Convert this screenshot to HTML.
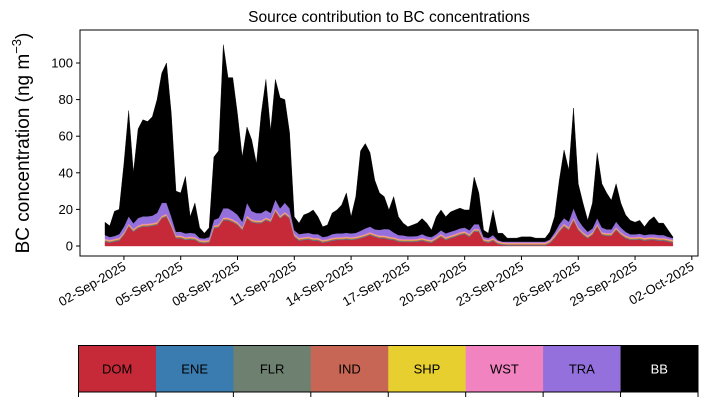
<!DOCTYPE html>
<html><head><meta charset="utf-8"><style>
body{margin:0;background:#fff;}
svg{display:block;font-family:"Liberation Sans","DejaVu Sans",sans-serif;}
</style></head><body>
<svg id="chart" width="707" height="402" viewBox="0 0 707 402"></svg>
<script>
const sources = ["DOM","ENE","FLR","IND","SHP","WST","TRA","BB"];
const colors = ["#c62a38","#3a7bb0","#6e8070","#c86655","#e6cf2e","#f183c1","#9370db","#000000"];
const yTicks = [0,20,40,60,80,100];
const xTickLabels = ["02-Sep-2025","05-Sep-2025","08-Sep-2025","11-Sep-2025","14-Sep-2025","17-Sep-2025","20-Sep-2025","23-Sep-2025","26-Sep-2025","29-Sep-2025","02-Oct-2025"];
const xTickDays = [1,4,7,10,13,16,19,22,25,28,31];
const DOM = [2.4,1.8,2.4,2.9,6,10.6,7.8,9.7,10.6,10.6,11,11.5,15,16,10.6,4.2,4.2,3.3,3.6,3.3,1.8,1.5,1.8,9.7,10.2,14,14,13,11.5,8.7,15,13,12.4,12.4,14,13,18.8,15,17,15,5,2.9,3.3,3.6,2.9,2.9,1.8,2.2,2.9,3.3,3.3,3.6,3.3,3.6,4.2,5,6,5,4.2,4.2,3.6,
3.3,2.4,2.2,2.2,2.2,2.4,2.9,2.2,1.8,3.3,5,3.3,4.2,5,6,6.5,5,7.8,7.8,2.4,1.8,2.9,1.1,0.5,0.3,0.3,0.3,0.3,0.3,0.3,0.3,0.3,0.3,1.5,4.2,7.8,10.6,8.7,14,8.7,6,4.2,6,10.6,6,5.5,5.5,8.7,6,4.2,3.3,3.3,3.6,2.9,3.3,3.3,2.9,2.9,2.4,1.8];
const ENE = [0.2,0.2,0.2,0.2,0.2,0.2,0.2,0.2,0.2,0.2,0.2,0.2,0.2,0.2,0.2,0.2,0.2,0.2,0.2,0.2,0.2,0.2,0.2,0.2,0.2,0.2,0.2,0.2,0.2,0.2,0.2,0.2,0.2,0.2,0.2,0.2,0.2,0.2,0.2,0.2,0.2,0.2,0.2,0.2,0.2,0.2,0.2,0.2,0.2,0.2,0.2,0.2,0.2,0.2,0.2,0.2,0.2,0.2,0.2,0.2,0.2,
0.2,0.2,0.2,0.2,0.2,0.2,0.2,0.2,0.2,0.2,0.2,0.2,0.2,0.2,0.2,0.2,0.2,0.2,0.2,0.2,0.2,0.2,0.2,0.2,0.2,0.2,0.2,0.2,0.2,0.2,0.2,0.2,0.2,0.2,0.2,0.2,0.2,0.2,0.2,0.2,0.2,0.2,0.2,0.2,0.2,0.2,0.2,0.2,0.2,0.2,0.2,0.2,0.2,0.2,0.2,0.2,0.2,0.2,0.2,0.2];
const FLR = [0.2,0.2,0.2,0.2,0.2,0.2,0.2,0.2,0.2,0.2,0.2,0.2,0.2,0.2,0.2,0.2,0.2,0.2,0.2,0.2,0.2,0.2,0.2,0.2,0.2,0.2,0.2,0.2,0.2,0.2,0.2,0.2,0.2,0.2,0.2,0.2,0.2,0.2,0.2,0.2,0.2,0.2,0.2,0.2,0.2,0.2,0.2,0.2,0.2,0.2,0.2,0.2,0.2,0.2,0.2,0.2,0.2,0.2,0.2,0.2,0.2,
0.2,0.2,0.2,0.2,0.2,0.2,0.2,0.2,0.2,0.2,0.2,0.2,0.2,0.2,0.2,0.2,0.2,0.2,0.2,0.2,0.2,0.2,0.2,0.2,0.2,0.2,0.2,0.2,0.2,0.2,0.2,0.2,0.2,0.2,0.2,0.2,0.2,0.2,0.2,0.2,0.2,0.2,0.2,0.2,0.2,0.2,0.2,0.2,0.2,0.2,0.2,0.2,0.2,0.2,0.2,0.2,0.2,0.2,0.2,0.2];
const IND = [0.4,0.4,0.4,0.4,0.4,0.4,0.4,0.4,0.4,0.4,0.4,0.4,0.4,0.4,0.4,0.4,0.4,0.4,0.4,0.4,0.4,0.4,0.4,0.4,0.4,0.4,0.4,0.4,0.4,0.4,0.4,0.4,0.4,0.4,0.4,0.4,0.4,0.4,0.4,0.4,0.4,0.4,0.4,0.4,0.4,0.4,0.4,0.4,0.4,0.4,0.4,0.4,0.4,0.4,0.4,0.4,0.4,0.4,0.4,0.4,0.4,
0.4,0.4,0.4,0.4,0.4,0.4,0.4,0.4,0.4,0.4,0.4,0.4,0.4,0.4,0.4,0.4,0.4,0.4,0.4,0.4,0.4,0.4,0.4,0.4,0.4,0.4,0.4,0.4,0.4,0.4,0.4,0.4,0.4,0.4,0.4,0.4,0.4,0.4,0.4,0.4,0.4,0.4,0.4,0.4,0.4,0.4,0.4,0.4,0.4,0.4,0.4,0.4,0.4,0.4,0.4,0.4,0.4,0.4,0.4,0.4];
const SHP = [0.3,0.3,0.3,0.3,0.3,0.3,0.3,0.3,0.3,0.3,0.3,0.3,0.3,0.3,0.3,0.3,0.3,0.3,0.3,0.3,0.3,0.3,0.3,0.3,0.3,0.3,0.3,0.3,0.3,0.3,0.3,0.3,0.3,0.3,0.3,0.3,0.3,0.3,0.3,0.3,0.3,0.3,0.3,0.3,0.3,0.3,0.3,0.3,0.3,0.3,0.3,0.3,0.3,0.3,0.3,0.3,0.3,0.3,0.3,0.3,0.3,
0.3,0.3,0.3,0.3,0.3,0.3,0.3,0.3,0.3,0.3,0.3,0.3,0.3,0.3,0.3,0.3,0.3,0.3,0.3,0.3,0.3,0.3,0.3,0.3,0.3,0.3,0.3,0.3,0.3,0.3,0.3,0.3,0.3,0.3,0.3,0.3,0.3,0.3,0.3,0.3,0.3,0.3,0.3,0.3,0.3,0.3,0.3,0.3,0.3,0.3,0.3,0.3,0.3,0.3,0.3,0.3,0.3,0.3,0.3,0.3];
const WST = [0.5,0.5,0.5,0.5,0.5,0.5,0.5,0.5,0.5,0.5,0.5,0.5,0.5,0.5,0.5,0.5,0.5,0.5,0.5,0.5,0.5,0.5,0.5,0.5,0.5,0.5,0.5,0.5,0.5,0.5,0.5,0.5,0.5,0.5,0.5,0.5,0.5,0.5,0.5,0.5,0.5,0.5,0.5,0.5,0.5,0.5,0.5,0.5,0.5,0.5,0.5,0.5,0.5,0.5,0.5,0.5,0.5,0.5,0.5,0.5,0.5,
0.5,0.5,0.5,0.5,0.5,0.5,0.5,0.5,0.5,0.5,0.5,0.5,0.5,0.5,0.5,0.5,0.5,0.5,0.5,0.5,0.5,0.5,0.5,0.5,0.5,0.5,0.5,0.5,0.5,0.5,0.5,0.5,0.5,0.5,0.5,0.5,0.5,0.5,0.5,0.5,0.5,0.5,0.5,0.5,0.5,0.5,0.5,0.5,0.5,0.5,0.5,0.5,0.5,0.5,0.5,0.5,0.5,0.5,0.5,0.5];
const TRA = [2,1.5,1.5,2,3,4,3,4,4,4,4,5,7,6,4,2,2,2,2,2,1,1,1.5,3,3.5,5,5,4.5,4,3,7,4.5,4,4,4,3.5,5,4,5,4,2,2,2,2,2,2,1.5,1.5,2,2,2,2,2,2,2.5,3,3,2.5,3,3.5,4,
2.5,2,2,1.5,1.5,1.5,2,1.5,1.5,1.5,2,2,2,2,2,2,2,2.5,2.5,1,1,1.5,0.5,0.3,0.5,0.5,0.5,0.5,0.5,0.5,0.5,0.5,0.5,0.5,1.5,2.5,3,3,5,4,3,2,2,3,2.5,2,2,3,2.5,2,1.5,1.5,1.5,1.5,1.5,1.5,1.5,1.5,1,1];
const BB = [7,6.1,13.5,13.5,34.4,57.8,27.6,48.7,52.8,51.8,54,61.9,70.9,76.4,56.5,22.2,21.2,31.1,8.8,16.6,5.6,2.9,5.1,34.3,36.7,89.4,71.4,72.9,54.9,35.3,41.4,38.9,27,54,71.4,44.9,65.6,60.4,56.4,41.4,7.4,6,10.1,10.8,13.2,9.5,5.6,6.2,11.5,12.8,15.5,21.8,9.1,19.8,43.7,46.4,40.4,26.9,20.2,17.7,10.5,
19.6,10,6.7,5.2,6.2,7,8.5,7.2,3.8,9.6,11.1,9.1,10.8,11.1,11.1,9.6,11.1,25.8,17.1,3.7,2.6,13.7,3.8,4.6,1.9,1.9,1.9,2.6,2.6,2.6,1.9,1.9,1.9,4.1,8.7,24.1,37.3,28.2,54.8,19.7,12.9,6.2,13.9,35.8,23.9,19.9,15.9,20.7,13.4,9.2,7.6,6.6,7.3,4.5,7.6,9.6,6.5,6.5,3.7,0.6];
const series = [DOM,ENE,FLR,IND,SHP,WST,TRA,BB];

const NS = "http://www.w3.org/2000/svg";
const svg = document.getElementById("chart");
const L = 80, R = 698, T = 30, B = 256;
const xDay = d => 105 + d * 18.93;
const xIdx = i => xDay(i / 4);
const yVal = v => 246 - v * 1.83;
function el(tag, attrs, parent) {
  const e = document.createElementNS(NS, tag);
  for (const k in attrs) e.setAttribute(k, attrs[k]);
  (parent || svg).appendChild(e);
  return e;
}

const title = el("text", {x: 389, y: 22, "text-anchor": "middle", "font-size": 15.5, fill: "#000"});


title.textContent = "Source contribution to BC concentrations";

const n = BB.length;
let cum = new Array(n).fill(0);
const areas = el("g", {});


series.forEach((s, k) => {
  const top = cum.map((c, i) => c + s[i]);
  let d = "";
  for (let i = 0; i < n; i++) d += (i ? "L" : "M") + xIdx(i).toFixed(2) + "," + yVal(top[i]).toFixed(2);
  for (let i = n - 1; i >= 0; i--) d += "L" + xIdx(i).toFixed(2) + "," + yVal(cum[i]).toFixed(2);
  const p = el("path", {d: d + "Z", fill: colors[k], stroke: colors[k], "stroke-width": 0.4}, areas);
  
  
  cum = top;
});

const frame = el("rect", {x: L, y: T, width: R - L, height: B - T, fill: "none", stroke: "#000", "stroke-width": 1});



yTicks.forEach(v => {
  const y = yVal(v);
  const t = el("line", {x1: L - 4, x2: L, y1: y, y2: y, stroke: "#000"});
  
  
  const lb = el("text", {x: L - 7, y: y + 4.5, "text-anchor": "end", "font-size": 13});
  
  
  lb.textContent = v;
});

xTickDays.forEach((d, i) => {
  const x = xDay(d);
  const t = el("line", {x1: x, x2: x, y1: B, y2: B + 4, stroke: "#000"});
  
  
  const lb = el("text", {x: 0, y: 0, "text-anchor": "end", "font-size": 13, transform: `translate(${x + 3},${B + 13}) rotate(-30)`});
  
  
  lb.textContent = xTickLabels[i];
});

const yt = el("text", {x: 0, y: 0, "text-anchor": "middle", "font-size": 19, transform: "translate(29,143) rotate(-90)"});


yt.innerHTML = 'BC concentration (ng m<tspan dy="-8" font-size="13">−3</tspan><tspan dy="8">)</tspan>';

const lg = el("g", {});


const LX = 78.5, LW = 619.5, LY = 345.5, LH = 46.5, cw = LW / sources.length;
sources.forEach((s, k) => {
  const r = el("rect", {x: LX + k * cw, y: LY, width: cw + 0.5, height: LH, fill: colors[k]}, lg);
  
  
  const tx = el("text", {x: LX + k * cw + cw / 2, y: LY + LH / 2 + 4.5, "text-anchor": "middle", "font-size": 13, fill: k === 7 ? "#fff" : "#000"}, lg);
  
  
  tx.textContent = s;
});
for (let k = 0; k <= sources.length; k++) {
  const t = el("line", {x1: LX + k * cw, x2: LX + k * cw, y1: LY + LH, y2: LY + LH + 5, stroke: "#000"}, lg);
  
  
}
const lf = el("rect", {x: LX, y: LY, width: LW, height: LH, fill: "none", stroke: "#000", "stroke-width": 1}, lg);


</script>
</body></html>
